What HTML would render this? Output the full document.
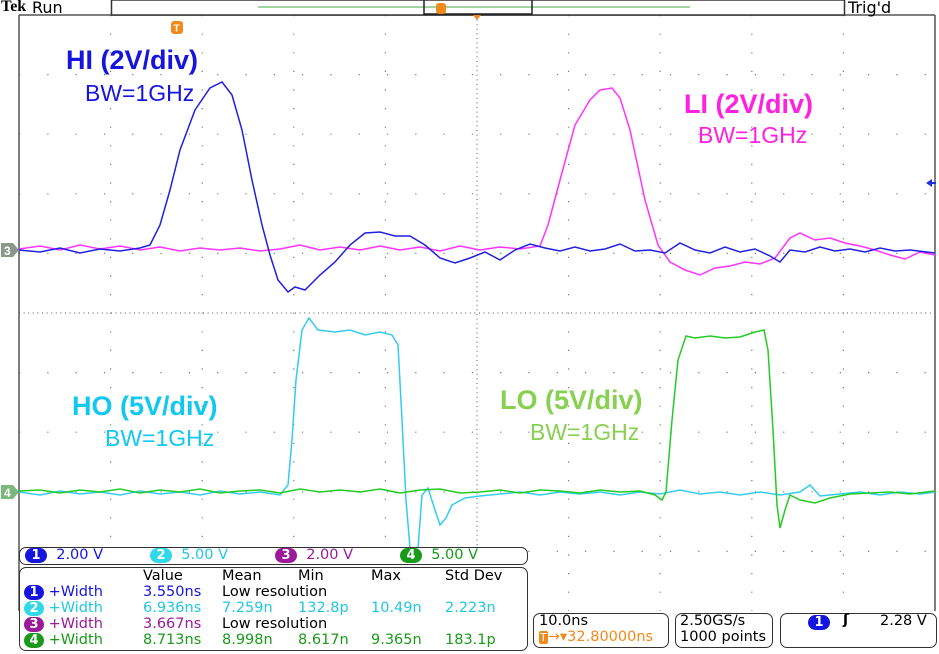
<!DOCTYPE html>
<html><head><meta charset="utf-8"><style>
body{margin:0;width:939px;height:654px;background:#fff;overflow:hidden;position:relative;font-family:"DejaVu Sans","Liberation Sans",sans-serif}
.t{position:absolute;white-space:nowrap}
.lab{font-family:"Liberation Sans",sans-serif;font-weight:bold;font-size:27px}
.bw{font-family:"Liberation Sans",sans-serif;font-size:23px}
.box{position:absolute;border:1.5px solid #333;border-radius:7px;background:#fff}
.m{font-size:14.5px;position:absolute;white-space:nowrap}
.pill{display:inline-block;color:#fff;border-radius:8px;width:22px;height:15px;line-height:15px;text-align:center;font-size:13px;font-weight:bold}
</style></head><body>
<svg width="939" height="654" style="position:absolute;left:0;top:0">
<g stroke="#777" stroke-width="1.2" stroke-dasharray="1.2,17.4" fill="none">
<path d="M110.6 15V611M202.2 15V611M293.8 15V611M385.4 15V611M568.6 15V611M660.2 15V611M751.8 15V611M843.4 15V611"/>
</g>
<g stroke="#777" stroke-width="1.2" stroke-dasharray="1.2,27.1" fill="none">
<path d="M19 74.6H935M19 134.2H935M19 193.8H935M19 253.4H935M19 372.6H935M19 432.2H935M19 491.8H935M19 551.4H935"/>
</g>
<g stroke="#555" stroke-width="1" stroke-dasharray="1,3.6" fill="none"><path d="M19 313H935M477 15V611"/></g>
<path d="M19 15V611M935 15V611M19 15H935" stroke="#555" stroke-width="1.5" fill="none"/>
<polyline fill="none" stroke="#ff33ff" stroke-width="1.5" points="19,249 40,246 60,250 80,245 100,249 120,246 140,250 160,247 180,251 200,248 220,250 240,248 260,251 280,249 300,245 320,250 340,247 360,250 380,246 400,250 420,247 440,251 460,246 480,250 500,247 520,249 540,246 548,225 560,180 575,125 590,100 600,90 612,88 620,98 630,130 645,200 658,245 670,262 685,270 700,275 715,268 730,266 745,262 760,264 775,258 790,238 800,233 815,240 830,238 845,243 860,246 875,250 890,255 905,259 920,252 935,255"/>
<polyline fill="none" stroke="#2020e0" stroke-width="1.5" points="19,250 40,252 60,248 80,253 100,249 120,251 140,248 150,245 160,225 170,190 180,150 195,110 210,88 222,82 232,95 242,130 252,180 262,225 270,255 278,280 288,292 295,287 305,290 320,275 335,262 350,245 365,233 380,232 395,236 410,236 425,245 440,258 455,263 470,258 485,252 500,260 515,250 530,244 545,248 560,251 575,247 590,251 605,249 620,244 635,251 650,250 665,253 680,243 695,250 710,253 725,247 740,252 755,249 770,256 780,262 790,250 805,252 820,247 835,251 850,249 865,252 880,248 895,251 910,250 935,253"/>
<polyline fill="none" stroke="#33ccee" stroke-width="1.5" points="19,492 40,495 60,491 80,494 100,492 120,495 140,491 160,494 180,492 200,495 220,491 240,494 260,492 280,495 288,485 292,440 296,380 302,330 309,318 318,330 335,332 350,330 365,335 380,332 392,335 398,345 402,420 406,500 410,548 418,548 422,495 428,488 435,510 440,525 446,518 452,505 465,498 480,496 500,494 520,492 540,495 560,492 580,494 600,492 620,495 640,492 660,494 680,490 700,494 720,492 740,495 760,492 780,495 800,492 810,485 820,496 840,494 860,492 880,495 900,492 920,494 935,492"/>
<polyline fill="none" stroke="#22cc22" stroke-width="1.5" points="19,491 40,490 60,493 80,490 100,492 120,489 140,493 160,490 180,492 200,489 220,493 240,491 260,490 280,493 300,489 320,492 340,490 360,492 380,489 400,493 420,490 440,489 460,493 480,492 500,490 520,493 540,490 560,491 580,493 600,490 620,492 640,491 655,495 662,500 666,492 672,420 678,360 686,336 695,338 710,336 725,338 740,337 755,332 764,330 768,350 773,430 777,505 780,528 785,510 790,495 800,500 815,503 830,498 850,494 870,493 890,492 910,494 935,491"/>
<path d="M1 243h12l6 7-6 7H1z" fill="#8a9a8a"/><text x="4" y="255" font-size="12" fill="#fff" font-family="Liberation Sans" font-weight="bold">3</text>
<path d="M1 485h12l6 7-6 7H1z" fill="#7cb87c"/><text x="4" y="497" font-size="12" fill="#fff" font-family="Liberation Sans" font-weight="bold">4</text>
<path d="M926 183l6-4v8z" fill="#1e2ee0"/><path d="M930 183h6" stroke="#1e2ee0" stroke-width="2"/>
<rect x="171" y="21" width="12" height="13" rx="3" fill="#f08a1a"/><text x="173.5" y="31.5" font-size="10" fill="#fff" font-weight="bold" font-family="Liberation Sans">T</text>
<rect x="111.5" y="0" width="733" height="15" fill="#fff" stroke="#333" stroke-width="1.5"/>
<path d="M258 7H690" stroke="#44aa44" stroke-width="1"/>
<path d="M424 0V15M424 14H532M532 0V15" stroke="#222" stroke-width="1.5" fill="none"/>
<rect x="436" y="3" width="10" height="11" rx="3" fill="#f08a1a"/>
<path d="M473 15l4 5 4-5z" fill="#f08a1a"/>
</svg>
<div class="t" style="left:1px;top:-2px;font-size:16px;font-family:'Liberation Serif',serif;font-weight:bold">Tek</div>
<div class="t" style="left:32px;top:-2px;font-size:16px">Run</div>
<div class="t" style="left:848px;top:-2px;font-size:16px">Trig'd</div>
<div class="t lab" style="left:66px;top:45px;color:#1515dd">HI (2V/div)</div>
<div class="t bw" style="left:85px;top:80px;color:#1515dd">BW=1GHz</div>
<div class="t lab" style="left:684px;top:89px;color:#ff20e0">LI (2V/div)</div>
<div class="t bw" style="left:698px;top:122px;color:#ff20e0">BW=1GHz</div>
<div class="t lab" style="left:72px;top:391px;color:#10c8f0">HO (5V/div)</div>
<div class="t bw" style="left:105px;top:425px;color:#10c8f0">BW=1GHz</div>
<div class="t lab" style="left:500px;top:385px;color:#88d050">LO (5V/div)</div>
<div class="t bw" style="left:530px;top:419px;color:#88d050">BW=1GHz</div>
<div class="box" style="left:19px;top:547px;width:507px;height:16px"></div>
<div class="m" style="left:25px;top:547px"><span class="pill" style="background:#1515dd">1</span> <span style="color:#1515dd">&nbsp;2.00 V</span></div>
<div class="m" style="left:150px;top:547px"><span class="pill" style="background:#30d8e8">2</span> <span style="color:#20c8e0">&nbsp;5.00 V</span></div>
<div class="m" style="left:275px;top:547px"><span class="pill" style="background:#9a1a9a">3</span> <span style="color:#9a1a9a">&nbsp;2.00 V</span></div>
<div class="m" style="left:400px;top:547px"><span class="pill" style="background:#1a9a1a">4</span> <span style="color:#1a9a1a">&nbsp;5.00 V</span></div>
<div class="box" style="left:19px;top:567px;width:507px;height:82px"></div>
<div class="m" style="left:143px;top:568px">Value</div><div class="m" style="left:222px;top:568px">Mean</div><div class="m" style="left:298px;top:568px">Min</div><div class="m" style="left:371px;top:568px">Max</div><div class="m" style="left:445px;top:568px">Std Dev</div>
<div class="m" style="left:24px;top:584px;color:#1515dd"><span class="pill" style="background:#1515dd;width:20px">1</span> +Width</div><div class="m" style="left:143px;top:584px;color:#1515dd">3.550ns</div><div class="m" style="left:222px;top:584px">Low resolution</div>
<div class="m" style="left:24px;top:600px;color:#20c8e0"><span class="pill" style="background:#30d8e8;width:20px">2</span> +Width</div><div class="m" style="left:143px;top:600px;color:#20c8e0">6.936ns</div><div class="m" style="left:222px;top:600px;color:#20c8e0">7.259n</div><div class="m" style="left:298px;top:600px;color:#20c8e0">132.8p</div><div class="m" style="left:371px;top:600px;color:#20c8e0">10.49n</div><div class="m" style="left:445px;top:600px;color:#20c8e0">2.223n</div>
<div class="m" style="left:24px;top:616px;color:#9a1a9a"><span class="pill" style="background:#9a1a9a;width:20px">3</span> +Width</div><div class="m" style="left:143px;top:616px;color:#9a1a9a">3.667ns</div><div class="m" style="left:222px;top:616px">Low resolution</div>
<div class="m" style="left:24px;top:632px;color:#1a9a1a"><span class="pill" style="background:#1a9a1a;width:20px">4</span> +Width</div><div class="m" style="left:143px;top:632px;color:#1a9a1a">8.713ns</div><div class="m" style="left:222px;top:632px;color:#1a9a1a">8.998n</div><div class="m" style="left:298px;top:632px;color:#1a9a1a">8.617n</div><div class="m" style="left:371px;top:632px;color:#1a9a1a">9.365n</div><div class="m" style="left:445px;top:632px;color:#1a9a1a">183.1p</div>
<div class="box" style="left:533px;top:613px;width:134px;height:33px"></div>
<div class="m" style="left:539px;top:613px">10.0ns</div>
<div class="m" style="left:539px;top:629px;color:#f08a1a"><span style="background:#f08a1a;color:#fff;border-radius:2px;font-size:11px;padding:0 1px">T</span>→▾32.80000ns</div>
<div class="box" style="left:675px;top:613px;width:96px;height:33px"></div>
<div class="m" style="left:680px;top:613px">2.50GS/s</div><div class="m" style="left:680px;top:629px">1000 points</div>
<div class="box" style="left:780px;top:613px;width:155px;height:33px"></div>
<div class="m" style="left:808px;top:614px"><span class="pill" style="background:#1515dd">1</span></div>
<div class="m" style="left:843px;top:612px;font-weight:bold">ʃ</div>
<div class="m" style="left:880px;top:613px">2.28 V</div>
</body></html>
